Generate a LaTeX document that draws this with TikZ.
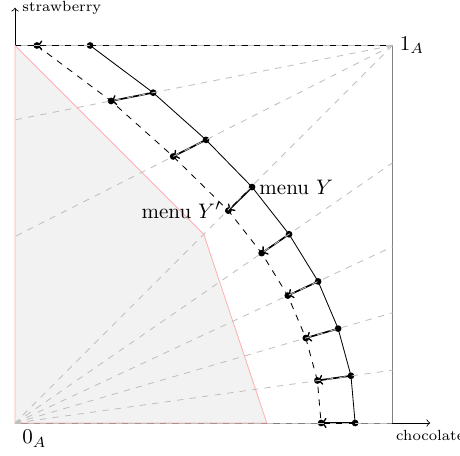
\documentclass[tikz,border=0pt]{standalone}
\usetikzlibrary{calc}
\begin{document}
\begin{tikzpicture}[x=6.32cm,y=6.32cm,
  ray/.style={dashed, gray!50},
  dotmark/.style={fill=black},
  move/.style={thick, ->},
  region/.style={fill=gray!10, draw=red!30},
  boxline/.style={draw=gray},
]
\useasboundingbox (-0.0397,-0.0848) rectangle (1.1788,1.1205);
\coordinate (O) at (0,0);
\coordinate (one) at (1,1);
% menu Y
\coordinate (Y0) at (0.199,1);
\coordinate (Y1) at (0.366,0.875);
\coordinate (Y2) at (0.506,0.75);
\coordinate (Y3) at (0.628,0.625);
\coordinate (Y4) at (0.726,0.5);
\coordinate (Y5) at (0.803,0.375);
\coordinate (Y6) at (0.856,0.25);
\coordinate (Y7) at (0.890,0.125);
\coordinate (Y8) at (0.901,0);
% menu Y'
\coordinate (Z0) at ($(one)!1.176!(Y0)$);
\coordinate (Z1) at ($(one)!1.176!(Y1)$);
\coordinate (Z2) at ($(one)!1.176!(Y2)$);
\coordinate (Z3) at ($(O)!0.9!(Y3)$);
\coordinate (Z4) at ($(O)!0.9!(Y4)$);
\coordinate (Z5) at ($(O)!0.9!(Y5)$);
\coordinate (Z6) at ($(O)!0.9!(Y6)$);
\coordinate (Z7) at ($(O)!0.9!(Y7)$);
\coordinate (Z8) at ($(O)!0.9!(Y8)$);
% ray ends
\coordinate (L0) at (0,1);
\coordinate (L1) at (0,0.803);
\coordinate (L2) at (0,0.494);
\coordinate (R4) at (1,0.689);
\coordinate (R5) at (1,0.467);
\coordinate (R6) at (1,0.292);
\coordinate (R7) at (1,0.140);
\coordinate (R8) at (1,0);
\coordinate (K) at (0.5,0.5);
\coordinate (B) at (0.667,0);
\coordinate (ytip) at (0,1.1);
\coordinate (xtip) at (1.1,0);

% box
\draw[boxline] (O) rectangle (one);
\draw[dashed] (L0) -- (one);
\draw[dashed] (O) -- (R8);
% axes
\draw[->] (O) -- (ytip);
\draw[->] (R8) -- (xtip);
% region
\draw[region] (O) -- (L0) -- (K) -- (B) -- cycle;

% menus
\draw (Y0) -- (Y1) -- (Y2) -- (Y3) -- (Y4) -- (Y5) -- (Y6) -- (Y7) -- (Y8);
\draw[dashed] (Z0) -- (Z1) -- (Z2) -- (Z3) -- (Z4) -- (Z5) -- (Z6) -- (Z7) -- (Z8);

% moves
\foreach \k in {0,...,8}{
  \draw[move] (Y\k) -- (Z\k);
  \fill[dotmark] (Y\k) circle (1.6pt);
  \fill[dotmark] (Z\k) circle (1.6pt);
}

% rays
\draw[ray] (one) -- (L0);
\draw[ray] (one) -- (L1);
\draw[ray] (one) -- (L2);
\draw[ray] (one) -- (O);
\draw[ray] (O) -- (R4);
\draw[ray] (O) -- (R5);
\draw[ray] (O) -- (R6);
\draw[ray] (O) -- (R7);
\draw[ray] (O) -- (R8);

% labels
\node[right] (ls) at (ytip) {\scriptsize strawberry};
\node[below] (lc) at (xtip) {\scriptsize chocolate};
\node[right] (l1) at (one) {$1_A$};
\node[below right] (l0) at (O) {$0_A$};
\node[right] (lY) at (Y3) {menu $Y$};
\node[left] (lZ) at (Z3) {menu $Y'$};
\end{tikzpicture}
\end{document}
